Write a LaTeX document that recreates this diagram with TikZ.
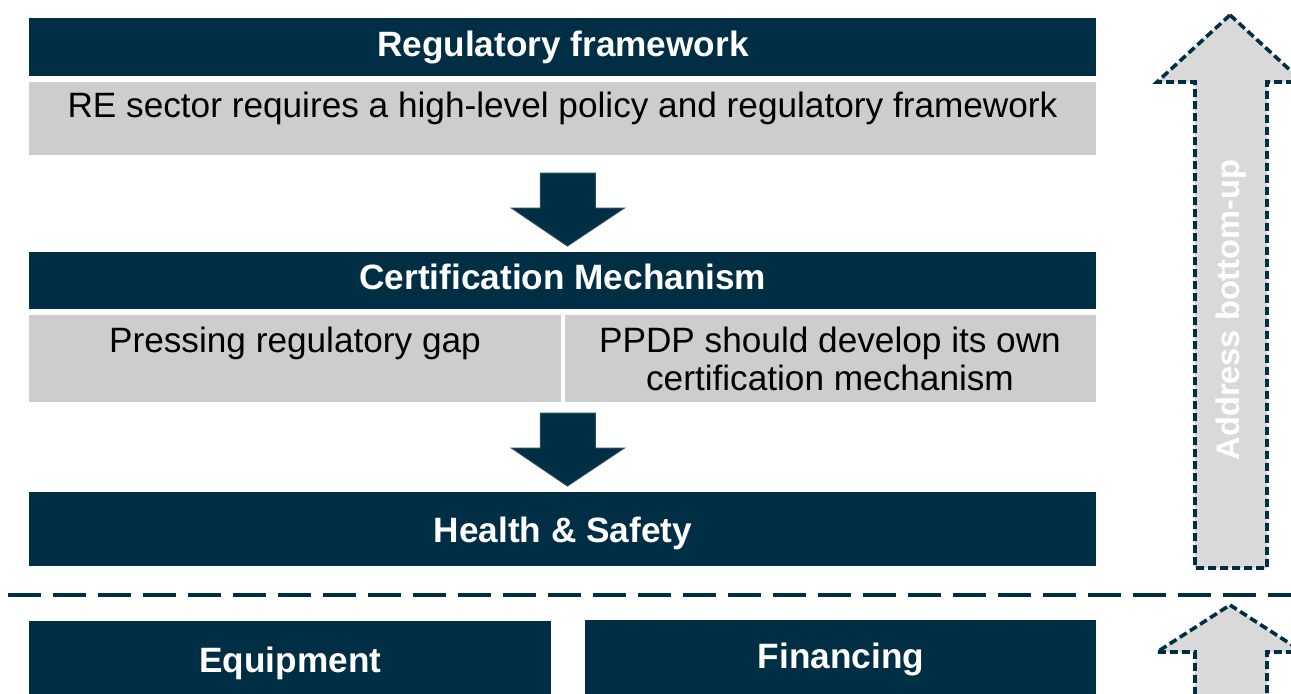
\documentclass[tikz,border=0pt]{standalone}
\usepackage{fontspec}
\setmainfont{Liberation Sans}
\usetikzlibrary{calc}

\definecolor{navy}{RGB}{0,46,69}
\definecolor{boxgrey}{RGB}{205,205,207}
\definecolor{arrowgrey}{RGB}{217,217,217}

\tikzset{
    bar/.style={fill=navy, text=white, font=\bfseries\fontsize{17.6}{21}\selectfont,
        anchor=north west, inner sep=0pt},
    greybox/.style={fill=boxgrey, anchor=north west, inner sep=0pt},
    greytext/.style={font=\fontsize{17.6}{19}\selectfont, align=center, inner sep=0pt},
    downblock/.style={fill=navy, draw=navy!85!white, line width=0.5pt},
    upblock/.style={fill=arrowgrey, draw=navy, line width=1.8pt, dash pattern=on 4pt off 2pt},
}

\begin{document}
\begin{tikzpicture}[x=0.5pt, y=-0.5pt]

        \useasboundingbox (0, 0) rectangle (1291, 693);
        \clip (0, 0) rectangle (1291, 693);

        % top block
        \node[bar, minimum width=533.5pt, minimum height=29pt] (reg) at (29, 18) {Regulatory framework};
        \node[greybox, minimum width=533.5pt, minimum height=36.5pt] (reggrey) at (29, 82) {};
        \node[greytext, anchor=base] (regtext) at (562.5, 117) {RE sector requires a high-level policy and regulatory framework};

        % certification
        \node[bar, minimum width=533.5pt, minimum height=28.5pt, text height=13pt, text depth=4pt] (cert) at (29, 252) {Certification Mechanism};
        \node[greybox, minimum width=266pt, minimum height=43.5pt] (gap) at (29, 315) {};
        \node[greybox, minimum width=265.5pt, minimum height=43.5pt] (ppdp) at (565, 315) {};
        \node[greytext, anchor=base] (gaptext) at (295, 352) {Pressing regulatory gap};
        \node[greytext] (ppdptext) at (830, 359) {PPDP should develop its own\\certification mechanism};

        \node[bar, minimum width=533.5pt, minimum height=37pt, text height=13pt, text depth=0pt] (health) at (29, 492) {Health \& Safety};

        % block arrows between the levels
        \foreach \n in {cert, health} {
            \draw[downblock] ($(\n.north) + (4.5, -6)$) -- ++(57, -38) -- ++(-29, 0) -- ++(0, -35)
                -- ++(-55, 0) -- ++(0, 35) -- ++(-29, 0) -- cycle;
        }

        % separator
        \draw[navy, line width=2pt, dash pattern=on 16.5pt off 6pt] (8, 595) -- (1291, 595);

        % bottom row
        \node[bar, minimum width=261pt, minimum height=39.5pt, text height=13pt, text depth=1.7pt] (equip) at (29, 621) {Equipment};
        \node[bar, minimum width=255.5pt, minimum height=37pt, text height=13pt, text depth=1.7pt] (fin) at (585, 620) {Financing};

        % bottom-up arrows
        \draw[upblock] (1230, 15) -- (1303, 82) -- (1267, 82) -- (1267, 568) -- (1195, 568)
            -- (1195, 82) -- (1157, 82) -- cycle;
        \draw[upblock] (1230, 605) -- (1303, 652) -- (1267, 652) -- (1267, 720) -- (1195, 720)
            -- (1195, 652) -- (1157, 652) -- cycle;
        \node[rotate=90, text=white, font=\bfseries\fontsize{16.3}{18}\selectfont] (addr) at (1231, 310) {Address bottom-up};

\end{tikzpicture}
\end{document}
